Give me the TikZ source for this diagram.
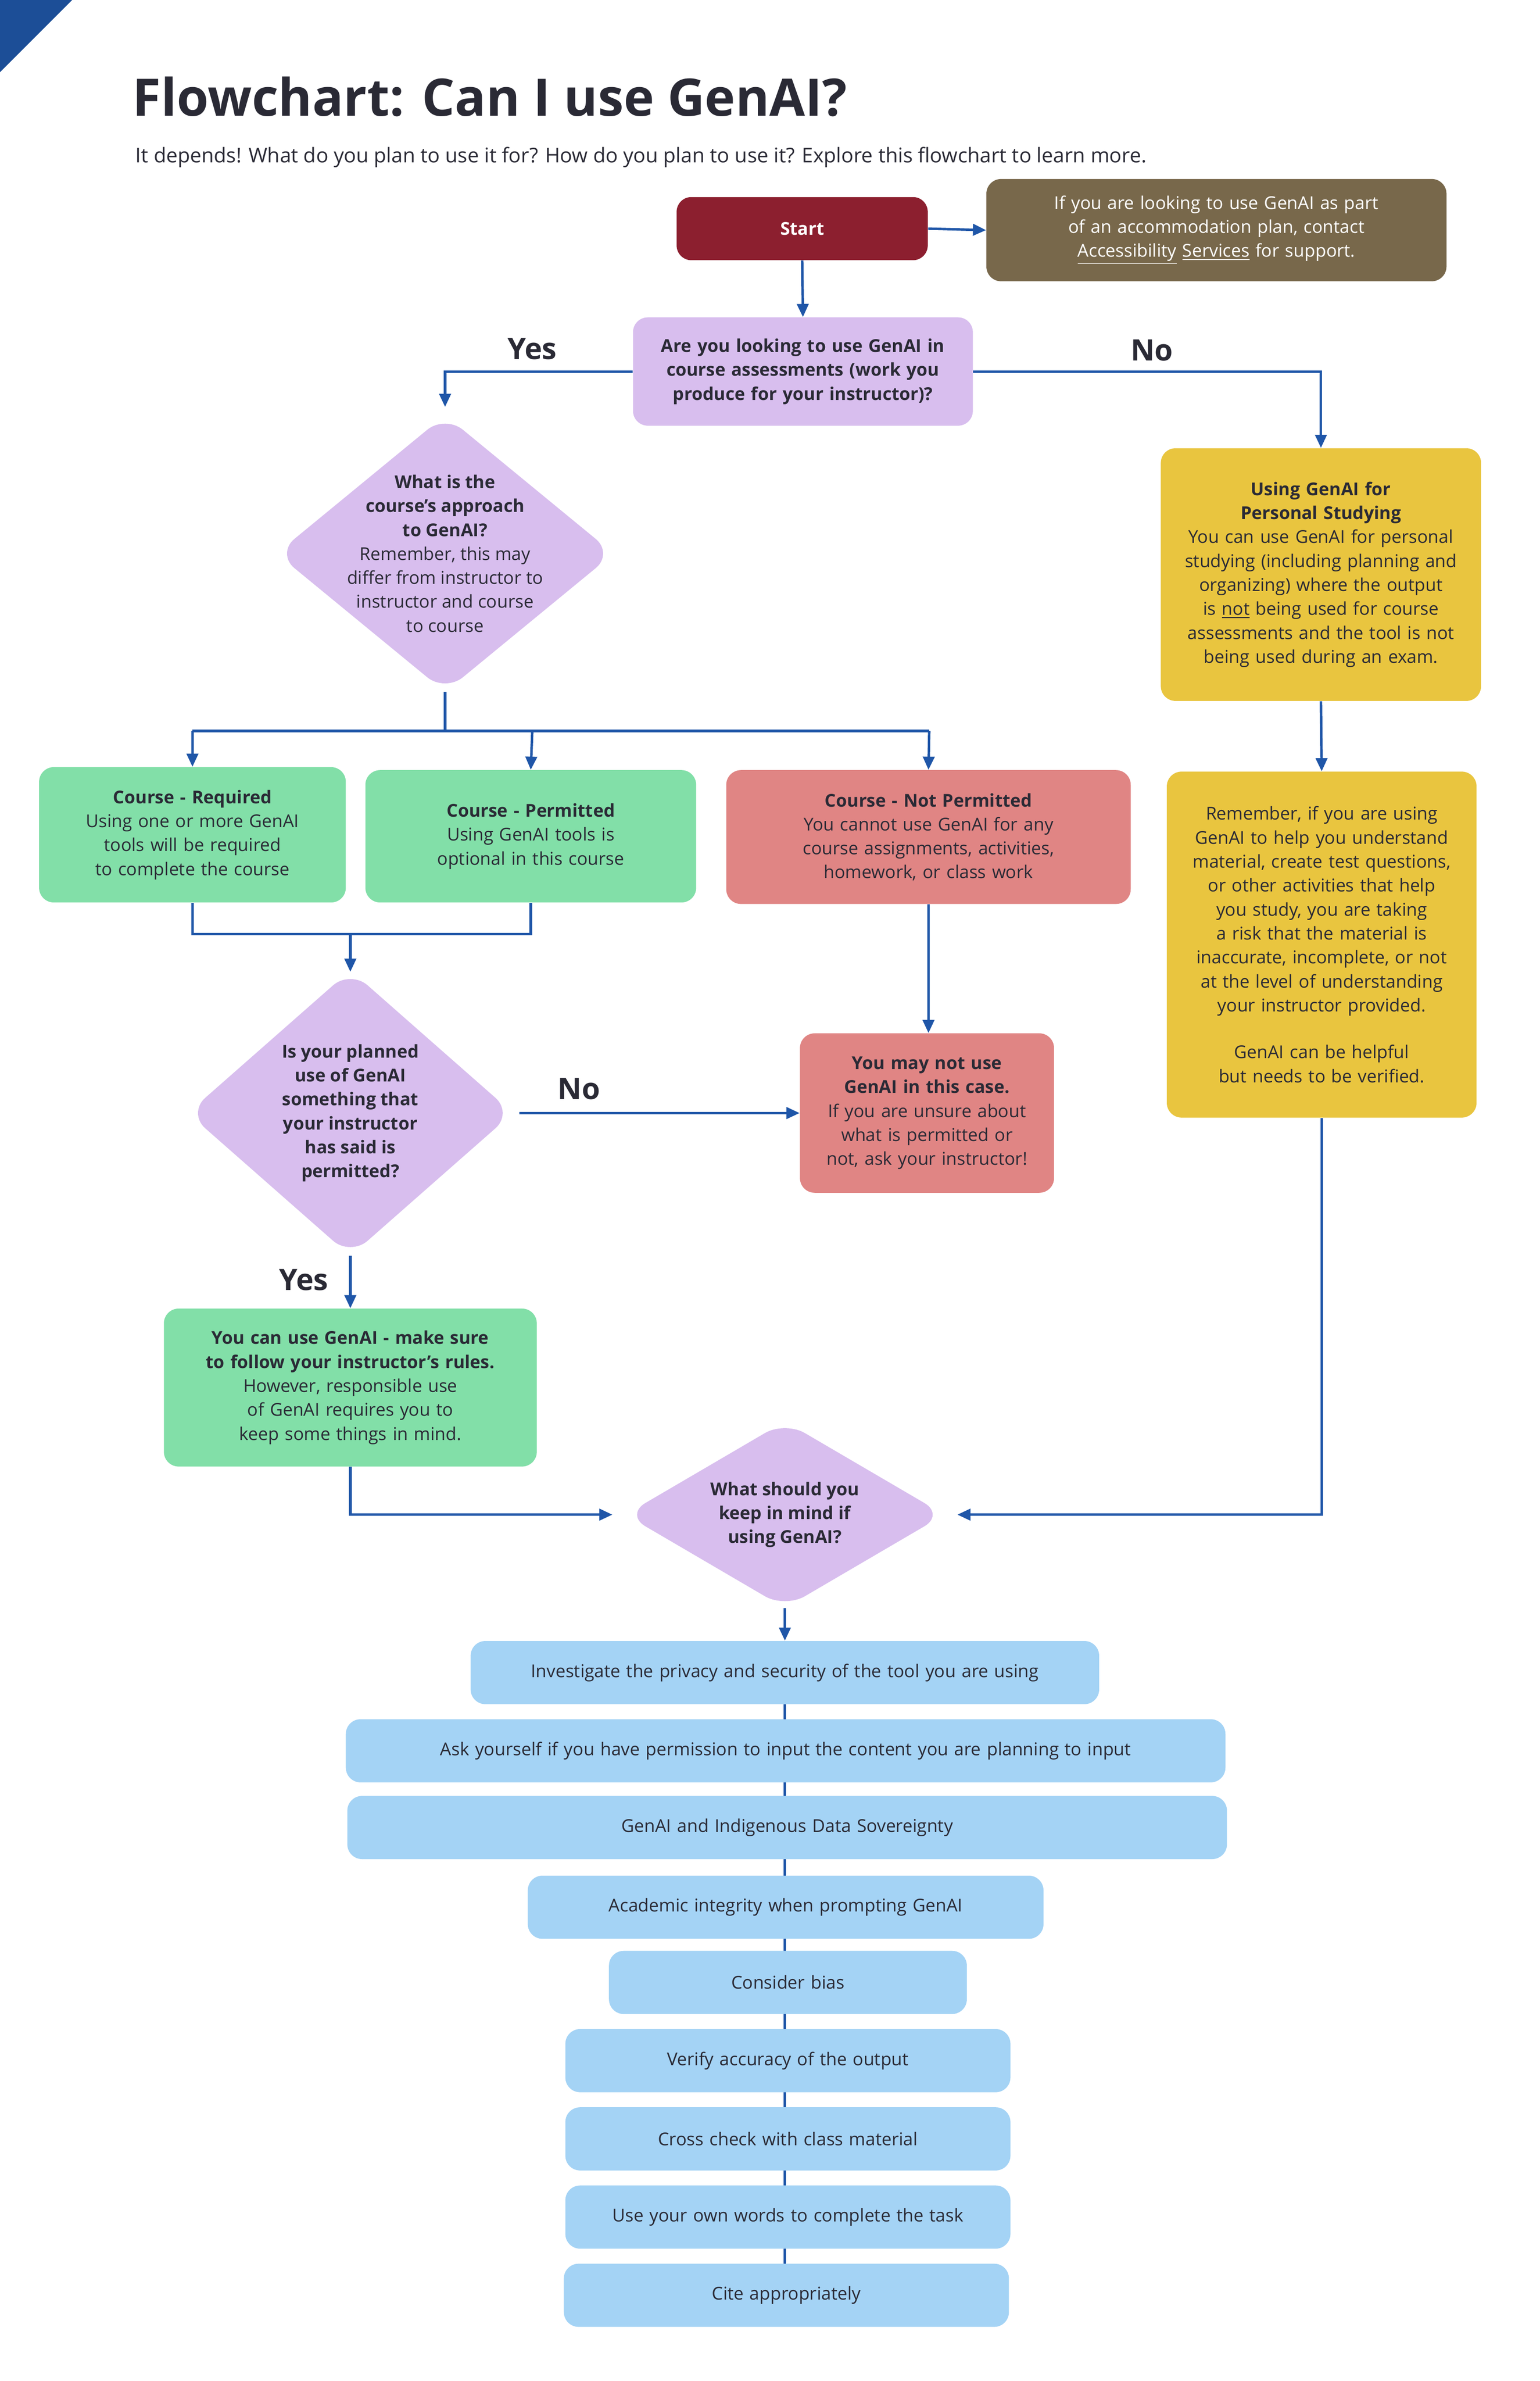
\documentclass[tikz,border=0pt]{standalone}
\usepackage{fontspec}
\setmainfont{Open Sans}
\usetikzlibrary{arrows.meta}
\definecolor{ln}{HTML}{1F56A8}
\definecolor{startc}{HTML}{8C1F2F}
\definecolor{brown}{HTML}{78684B}
\definecolor{lav}{HTML}{D8BEEE}
\definecolor{yel}{HTML}{E9C53F}
\definecolor{grn}{HTML}{82DFA8}
\definecolor{rd}{HTML}{E08584}
\definecolor{blu}{HTML}{A4D3F5}
\definecolor{ttl}{HTML}{2A2A35}
\newcommand\bx[7]{%
 \pgfmathsetmacro\bw{(#4-#2)*0.032227}%
 \pgfmathsetmacro\bh{(#5-#3)*0.032227}%
 \pgfmathsetmacro\tw{(#4-#2-16)*0.032227}%
 \node[#6, minimum width=\bw cm, minimum height=\bh cm, text width=\tw cm] (#1) at ({(#2+#4)/2},{(#3+#5)/2}) {#7};}
\newcommand\dia[6]{% name cx cy hw hh text
 \fill[lav, rounded corners=14pt] (#2,#3-#5) -- (#2+#4,#3) -- (#2,#3+#5) -- (#2-#4,#3) -- cycle;
 \coordinate (#1n) at (#2,#3-#5); \coordinate (#1s) at (#2,#3+#5);
 \coordinate (#1e) at (#2+#4,#3); \coordinate (#1w) at (#2-#4,#3);
 \node[txt, align=center] (#1) at (#2,#3) {#6};}
\begin{document}
\lefthyphenmin=64
\begin{tikzpicture}[x=0.032227cm,y=-0.032227cm,
 txt/.style={font=\fontsize{10.8}{14.6}\selectfont, text=ttl},
 bx/.style={txt, rounded corners=9pt, align=center, inner sep=0pt},
 ar/.style={draw=ln, line width=1.5pt, -{Triangle[length=8pt,width=7pt]}},
 li/.style={draw=ln, line width=1.5pt},
 yn/.style={font=\fontsize{18}{20}\selectfont\bfseries, text=ttl}]
\useasboundingbox (0,0) rectangle (1024,1583);
\fill[white] (0,0) rectangle (1024,1583);
\fill[ln!90!black] (0,0) -- (48,0) -- (0,48) -- cycle;
\node[anchor=base west, font=\fontsize{31.5}{34}\selectfont\bfseries, text=ttl, inner sep=0] (title) at (88,77) {Flowchart: Can I use GenAI?};
\node[anchor=base west, font=\fontsize{12.4}{14}\selectfont, text=ttl, inner sep=0] (sub) at (90,108) {It depends! What do you plan to use it for? How do you plan to use it? Explore this flowchart to learn more.};

\bx{start}{450}{131}{617}{173}{bx, fill=startc, text=white, font=\fontsize{10.8}{14.6}\selectfont\bfseries}{Start}
\bx{acc}{656}{119}{962}{187}{bx, fill=brown, text=white}{If you are looking to use GenAI as part of an accommodation plan, contact \underline{Accessibility} \underline{Services} for support.}
\bx{q1}{421}{211}{647}{283}{bx, fill=lav}{\bfseries Are you looking to use GenAI in course assessments (work you produce for your instructor)?}
\node[yn] (yes1) at (354,232) {Yes};
\node[yn] (no1) at (766,233) {No};
\dia{d1}{296}{368}{112}{92}{\textbf{What is the}\\\textbf{course's approach}\\\textbf{to GenAI?}\\Remember, this may\\differ from instructor to\\instructor and course\\to course}
\bx{pers}{772}{298}{985}{466}{bx, fill=yel}{\textbf{Using GenAI for Personal Studying}\\You can use GenAI for personal studying (including planning and organizing) where the output is \underline{not} being used for course assessments and the tool is not being used during an exam.}
\bx{rem}{776}{513}{982}{743}{bx, fill=yel}{Remember, if you are using GenAI to help you understand material, create test questions, or other activities that help you study, you are taking a risk that the material is inaccurate, incomplete, or not at the level of understanding your instructor provided.\\[14pt]GenAI can be helpful but needs to be verified.}
\bx{req}{26}{510}{230}{600}{bx, fill=grn}{\textbf{Course - Required}\\Using one or more GenAI tools will be required to complete the course}
\bx{perm}{243}{512}{463}{600}{bx, fill=grn}{\textbf{Course - Permitted}\\Using GenAI tools is optional in this course}
\bx{notp}{483}{512}{752}{601}{bx, fill=rd}{\textbf{Course - Not Permitted}\\You cannot use GenAI for any course assignments, activities, homework, or class work}
\dia{d2}{233}{740}{108}{95}{\bfseries Is your planned\\\bfseries use of GenAI\\\bfseries something that\\\bfseries your instructor\\\bfseries has said is\\\bfseries permitted?}
\node[yn] (no2) at (385,724) {No};
\node[yn] (yes2) at (202,851) {Yes};
\bx{may}{532}{687}{701}{793}{bx, fill=rd}{\textbf{You may not use GenAI in this case.}\\If you are unsure about what is permitted or not, ask your instructor!}
\bx{can}{109}{870}{357}{975}{bx, fill=grn}{\textbf{You can use GenAI - make sure to follow your instructor's rules.}\\However, responsible use of GenAI requires you to keep some things in mind.}
\dia{d3}{522}{1007}{106}{62}{\bfseries What should you\\\bfseries keep in mind if\\\bfseries using GenAI?}

% list
\draw[li] (522,1133) -- (522,1505);
\bx{l1}{313}{1091}{731}{1133}{bx, fill=blu}{Investigate the privacy and security of the tool you are using}
\bx{l2}{230}{1143}{815}{1185}{bx, fill=blu}{Ask yourself if you have permission to input the content you are planning to input}
\bx{l3}{231}{1194}{816}{1236}{bx, fill=blu}{GenAI and Indigenous Data Sovereignty}
\bx{l4}{351}{1247}{694}{1289}{bx, fill=blu}{Academic integrity when prompting GenAI}
\bx{l5}{405}{1297}{643}{1339}{bx, fill=blu}{Consider bias}
\bx{l6}{376}{1349}{672}{1391}{bx, fill=blu}{Verify accuracy of the output}
\bx{l7}{376}{1401}{672}{1443}{bx, fill=blu}{Cross check with class material}
\bx{l8}{376}{1453}{672}{1495}{bx, fill=blu}{Use your own words to complete the task}
\bx{l9}{375}{1505}{671}{1547}{bx, fill=blu}{Cite appropriately}

% connectors
\draw[ar] (start.east) -- (acc.west);
\draw[ar] (start.south) -- (q1.north);
\draw[ar] (q1.west) -| ([yshift=5pt]d1n);
\draw[ar] (q1.east) -| (pers.north);
\draw[ar] (pers.south) -- (rem.north);
\coordinate (j1) at (296,486);
\draw[li] (d1s) -- (j1);
\draw[li] (128,486) -- (618,486);
\draw[ar] (128,486) -- (req.north);
\draw[ar] (354,486) -- (perm.north);
\draw[ar] (618,486) -- (notp.north);
\coordinate (j2) at (233,621);
\draw[li] (req.south) |- (j2) -| (perm.south);
\draw[ar] (j2) -- ([yshift=-1pt]d2n);
\draw[ar] (notp.south) -- (notp.south |- may.north);
\draw[ar] ([xshift=4pt]d2e) -- (may.west |- d2e);
\draw[ar] (d2s) -- (can.north);
\draw[ar] (can.south) |- ([xshift=-8pt]d3w);
\draw[ar] (rem.south) |- ([xshift=8pt]d3e);
\draw[ar] (d3s) -- (l1.north);
\end{tikzpicture}
\end{document}
